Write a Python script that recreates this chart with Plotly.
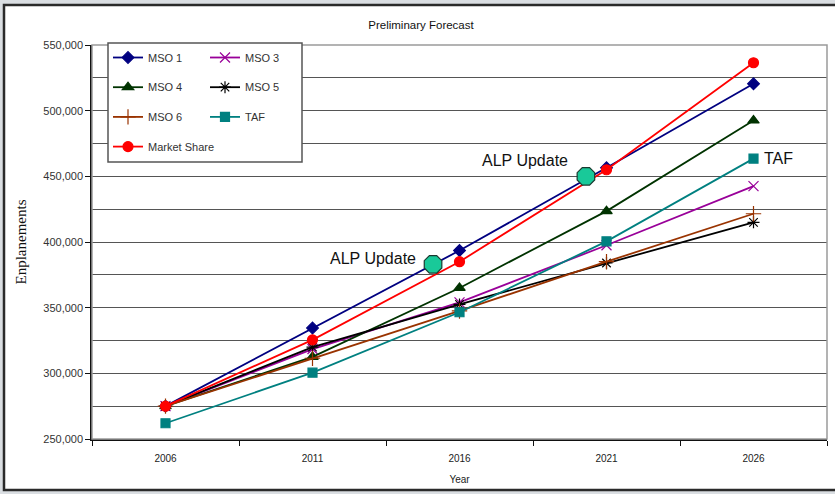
import plotly.graph_objects as go

years = [2006, 2011, 2016, 2021, 2026]
mso1 = [275000, 334500, 393500, 456500, 520500]
mso3 = [275000, 318500, 354000, 397500, 442500]
mso4 = [275000, 312500, 365000, 423500, 492500]
mso5 = [275000, 320000, 352500, 384000, 415000]
mso6 = [275000, 311500, 347500, 385000, 421500]
taf = [262000, 300500, 346500, 400500, 463500]
market_share = [275000, 325500, 385000, 455000, 536500]

alp_x = [2015.1, 2020.3]
alp_y = [383000, 450000]
alp_label = "ALP Update"

y_ticks = [250000, 300000, 350000, 400000, 450000, 500000, 550000]
x_boundaries = [2003.5, 2008.5, 2013.5, 2018.5, 2023.5, 2028.5]

sans = "Liberation Sans, Arial, sans-serif"

series = [
    ("MSO 1", mso1, "#000080", "diamond", 9, "legend"),
    ("MSO 3", mso3, "#990099", "x-thin-open", 10, "legend2"),
    ("MSO 4", mso4, "#003300", "triangle-up", 10, "legend"),
    ("MSO 5", mso5, "#000000", "asterisk-open", 10, "legend2"),
    ("MSO 6", mso6, "#993300", "cross-thin-open", 11, "legend"),
    ("TAF", taf, "#008080", "square", 9, "legend2"),
    ("Market Share", market_share, "#FF0000", "circle", 10, "legend"),
]

fig = go.Figure()
for i, (name, vals, col, sym, sz, lg) in enumerate(series):
    fig.add_trace(go.Scatter(
        x=years, y=vals, name=name, mode="lines+markers",
        line=dict(color=col, width=1.8),
        marker=dict(symbol=sym, size=sz, color=col, line=dict(color=col, width=1.2)),
        legend=lg, legendgroup=name,
    ))

fig.add_trace(go.Scatter(
    x=alp_x, y=alp_y, mode="markers", showlegend=False,
    marker=dict(symbol="octagon", size=19, color="#19C999", line=dict(color="#1a3a30", width=1.2)),
))

fig.add_annotation(x=alp_x[0], y=alp_y[0], text=alp_label, showarrow=False,
                   xanchor="right", yanchor="middle", xshift=-15, yshift=6,
                   font=dict(family=sans, size=16, color="#111"))
fig.add_annotation(x=alp_x[1], y=alp_y[1], text=alp_label, showarrow=False,
                   xanchor="right", yanchor="middle", xshift=-16, yshift=16,
                   font=dict(family=sans, size=16, color="#111"))
fig.add_annotation(x=years[-1], y=taf[-1], text="TAF", showarrow=False,
                   xanchor="left", yanchor="middle", xshift=8, yshift=0,
                   font=dict(family=sans, size=16, color="#111"))

L, R, T, B = 92, 8, 45, 55
W, H = 835, 494
pw, ph = W - L - R, H - T - B

def px_x(p):
    return (p - L) / pw

def px_y(p):
    return (H - B - p) / ph

shapes = [
    dict(type="rect", xref="paper", yref="paper", x0=px_x(4), x1=px_x(840), y0=px_y(490), y1=px_y(5),
         line=dict(color="#2a2a2a", width=2.5), fillcolor="white", layer="below"),
    dict(type="rect", xref="paper", yref="paper", x0=0, x1=1, y0=0, y1=1,
         line=dict(color="#9a9a9a", width=1.5), fillcolor="rgba(0,0,0,0)", layer="above"),
    dict(type="rect", xref="paper", yref="paper", x0=px_x(108), x1=px_x(302), y0=px_y(162), y1=px_y(43),
         line=dict(color="#555555", width=1.5), fillcolor="white", layer="above"),
]

fig.update_layout(
    width=W, height=H,
    margin=dict(l=L, r=R, t=T, b=B, autoexpand=False),
    paper_bgcolor="#dadee2",
    plot_bgcolor="white",
    shapes=shapes,
    title=dict(text="Preliminary Forecast", xref="container", x=421 / W, xanchor="center",
               yref="container", y=1 - 25 / H, yanchor="middle",
               font=dict(family=sans, size=11.5, color="#111")),
    legend=dict(x=px_x(108), y=px_y(43), xanchor="left", yanchor="top",
                bgcolor="rgba(0,0,0,0)", borderwidth=0, orientation="v",
                traceorder="grouped", tracegroupgap=10.7,
                font=dict(family=sans, size=11, color="#333")),
    legend2=dict(x=px_x(205), y=px_y(43), xanchor="left", yanchor="top",
                 bgcolor="rgba(0,0,0,0)", borderwidth=0, orientation="v",
                 traceorder="grouped", tracegroupgap=10.7,
                 font=dict(family=sans, size=11, color="#333")),
    xaxis=dict(range=[2003.5, 2028.5], tickvals=years, ticktext=[str(y) for y in years],
               ticks="", showgrid=False, zeroline=False, automargin=False,
               showline=True, linecolor="#111", linewidth=1.5, ticklabelstandoff=9,
               tickfont=dict(family=sans, size=10, color="#222"),
               minor=dict(tickvals=x_boundaries, ticks="outside", ticklen=5, tickcolor="#111", showgrid=False),
               title=dict(text="Year", font=dict(family=sans, size=10, color="#222"), standoff=13)),
    yaxis=dict(range=[250000, 550000], tickvals=y_ticks, tickformat=",d",
               ticks="outside", ticklen=5, tickcolor="#111", automargin=False,
               showgrid=True, gridcolor="#555", gridwidth=1, zeroline=False,
               showline=True, linecolor="#111", linewidth=1.5,
               minor=dict(dtick=25000, showgrid=True, gridcolor="#555", gridwidth=1, ticks=""),
               tickfont=dict(family=sans, size=11, color="#333"),
               title=dict(text="Enplanements", font=dict(family="Liberation Serif, Times New Roman, serif", size=15, color="#111"), standoff=13)),
    showlegend=True,
)

fig.write_html("out.html", config={"displayModeBar": False},
               post_script="document.body.style.margin='0';")
